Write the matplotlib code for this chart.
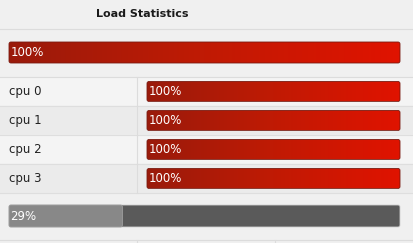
import numpy as np
import matplotlib.pyplot as plt
from matplotlib.patches import FancyBboxPatch

# Values
title = "Load Statistics"
total_load = 100
cpu_labels = ["cpu 0", "cpu 1", "cpu 2", "cpu 3"]
cpu_loads = [100, 100, 100, 100]
memory_load = 29

W, H = 413, 243
fig = plt.figure(figsize=(W / 100, H / 100), dpi=100)
fig.patch.set_facecolor("#f0f0f0")
ax = fig.add_axes([0, 0, 1, 1])
ax.set_xlim(0, W)
ax.set_ylim(H, 0)
ax.axis("off")

red_grad = np.linspace(0, 1, 256).reshape(1, -1)
red_cmap = plt.matplotlib.colors.LinearSegmentedColormap.from_list(
    "load", ["#9a1b0b", "#c01a04", "#e01300"])


def load_bar(x0, x1, yc, h, pct, red=True):
    width = (x1 - x0) * pct / 100.0
    if not red:
        track = FancyBboxPatch((x0, yc - h / 2), x1 - x0, h,
                               boxstyle="round,pad=0,rounding_size=2",
                               fc="#5a5a5a", ec="#cfcfcf", lw=0.6, zorder=2)
        ax.add_patch(track)
    rect = ax.barh([yc], [width], left=x0, height=h, color="none", zorder=3)[0]
    shape = FancyBboxPatch((rect.get_x(), rect.get_y()), rect.get_width(), rect.get_height(),
                           boxstyle="round,pad=0,rounding_size=2",
                           fc="none" if red else "#888888",
                           ec="#7a1a10" if red else "#a0a0a0", lw=0.6, zorder=4)
    ax.add_patch(shape)
    if red:
        im = ax.imshow(red_grad, cmap=red_cmap, aspect="auto", zorder=3,
                       extent=(x0, x0 + width, yc + h / 2, yc - h / 2))
        im.set_clip_path(shape)
    ax.text(x0 + 1.5, yc, f"{pct}%", color="white", fontsize=8.5,
            va="center", ha="left", zorder=5)


# title and header line
ax.text(142, 14, title, fontsize=8, fontweight="bold", color="#1a1a1a",
        ha="center", va="center")
ax.axhline(29, color="#dcdcdc", lw=0.8)

# overall load
load_bar(9, 400, 52.5, 21, total_load)

# per-cpu table
row_top, row_h = 77, 29
ax.axhline(row_top, color="#dcdcdc", lw=0.8)
for i, (lab, val) in enumerate(zip(cpu_labels, cpu_loads)):
    y0 = row_top + i * row_h
    ax.axhspan(y0, y0 + row_h, color="#f4f4f4" if i % 2 == 0 else "#ebebeb", zorder=0)
    ax.axhline(y0 + row_h, color="#dedede", lw=0.8)
    ax.text(9, y0 + row_h / 2, lab, fontsize=8.5, color="#222222",
            ha="left", va="center")
    load_bar(147, 400, y0 + row_h / 2, 20, val)
ax.plot([137, 137], [row_top, row_top + 4 * row_h], color="#dcdcdc", lw=0.8)

# memory bar
load_bar(9, 400, 216, 22, memory_load, red=False)

# bottom table edge
ax.axhline(240, color="#dcdcdc", lw=0.8)
ax.plot([137, 137], [240, 243], color="#dcdcdc", lw=0.8)
ax.plot([275, 275], [240, 243], color="#dcdcdc", lw=0.8)

fig.savefig("out.png", dpi=100, facecolor=fig.get_facecolor())
